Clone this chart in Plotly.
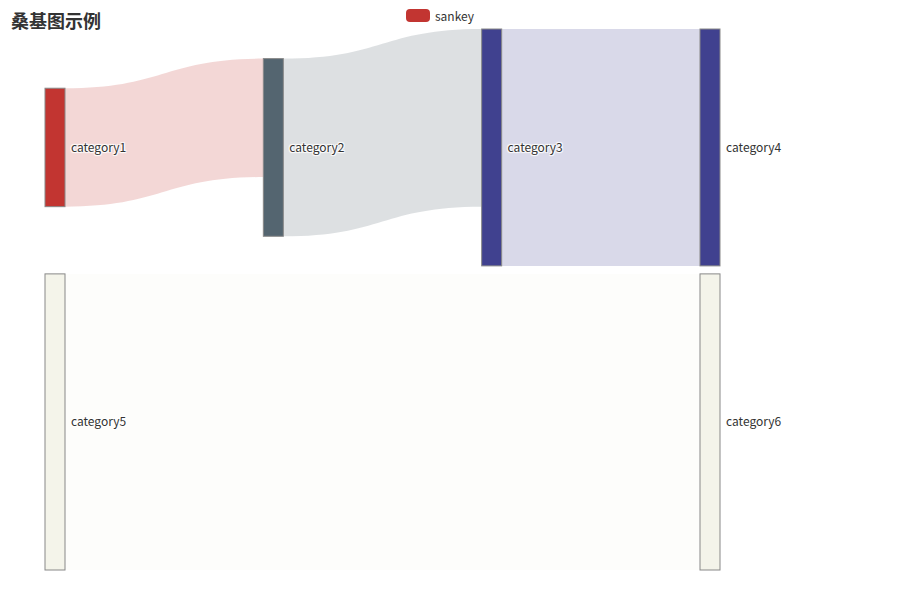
import plotly.graph_objects as go

node_labels = ["category1", "category2", "category3", "category4", "category5", "category6"]
node_colors = ["#c23531", "#546570", "#40418f", "#40418f", "#f4f4ea", "#f4f4ea"]
link_source = ["category1", "category2", "category3", "category5"]
link_target = ["category2", "category3", "category4", "category6"]
link_value = [10, 15, 20, 25]
legend_name = "sankey"
title_text = "桑基图示例"

idx = {n: i for i, n in enumerate(node_labels)}
FONT = "Noto Sans CJK SC, Microsoft YaHei, sans-serif"

# figure geometry (page has an 8px body margin)
ML, MR, MT, MB = 37, 188, 21, 38
W, H = 900, 600
PW, PH = W - ML - MR, H - MT - MB
PAD = 8


def to_rgba(hex_color, alpha):
    h = hex_color.lstrip("#")
    r, g, b = int(h[0:2], 16), int(h[2:4], 16), int(h[4:6], 16)
    return f"rgba({r},{g},{b},{alpha})"


link_colors = [to_rgba(node_colors[idx[s]], 0.2) for s in link_source]

# nodes in the last column get their label on the right via annotations
sinks = [n for n in node_labels if n in link_target and n not in link_source]
shown_labels = ["\u2009" + n if n not in sinks else "" for n in node_labels]

fig = go.Figure()
fig.add_trace(go.Sankey(
    arrangement="snap",
    node=dict(
        label=shown_labels,
        customdata=node_labels,
        hovertemplate="%{customdata}: %{value}<extra></extra>",
        color=node_colors,
        pad=PAD,
        thickness=20,
        line=dict(color="#888888", width=1),
    ),
    link=dict(
        source=[idx[s] for s in link_source],
        target=[idx[t] for t in link_target],
        value=link_value,
        color=link_colors,
    ),
    textfont=dict(family=FONT, size=12, color="#333333"),
    domain=dict(x=[0, 1], y=[0, 1]),
))

# right-hand labels for the last column (stacked top to bottom, scaled like the sankey)
sink_vals = [sum(v for t, v in zip(link_target, link_value) if t == n) for n in sinks]
ky = (PH - PAD * (len(sinks) - 1)) / sum(sink_vals)
top = 0.0
for n, v in zip(sinks, sink_vals):
    hpx = v * ky
    center = top + hpx / 2
    fig.add_annotation(xref="paper", yref="paper", x=1, y=1 - center / PH,
                       xshift=4, yshift=1, text=n, showarrow=False,
                       xanchor="left", yanchor="middle",
                       font=dict(family=FONT, size=12, color="#333333"))
    top += hpx + PAD


# page pixel -> paper coordinates
def px_x(x):
    return (x - 8 - ML) / PW


def px_y(y):
    return 1 + (MT - (y - 8)) / PH


# legend decoration (rounded swatch + name)
x0, x1, y0, y1 = px_x(406), px_x(430), px_y(22), px_y(9)
rx, ry = 4 / PW, 4 / PH
path = (f"M {x0+rx},{y0} L {x1-rx},{y0} Q {x1},{y0} {x1},{y0+ry} L {x1},{y1-ry} "
        f"Q {x1},{y1} {x1-rx},{y1} L {x0+rx},{y1} Q {x0},{y1} {x0},{y1-ry} "
        f"L {x0},{y0+ry} Q {x0},{y0} {x0+rx},{y0} Z")
fig.add_shape(type="path", xref="paper", yref="paper", path=path,
              fillcolor=node_colors[0], line=dict(width=0))
fig.add_annotation(xref="paper", yref="paper", x=px_x(433), y=px_y(15.5),
                   text=legend_name, showarrow=False, xanchor="left", yanchor="middle",
                   font=dict(family=FONT, size=12, color="#333333"))

# title
fig.add_annotation(xref="paper", yref="paper", x=px_x(9), y=px_y(20),
                   text=f"<b>{title_text}</b>", showarrow=False,
                   xanchor="left", yanchor="middle",
                   font=dict(family=FONT, size=18, color="#333333"))

fig.update_layout(
    width=W, height=H,
    margin=dict(l=ML, r=MR, t=MT, b=MB),
    paper_bgcolor="white",
    plot_bgcolor="white",
)

fig.write_html("out.html")
